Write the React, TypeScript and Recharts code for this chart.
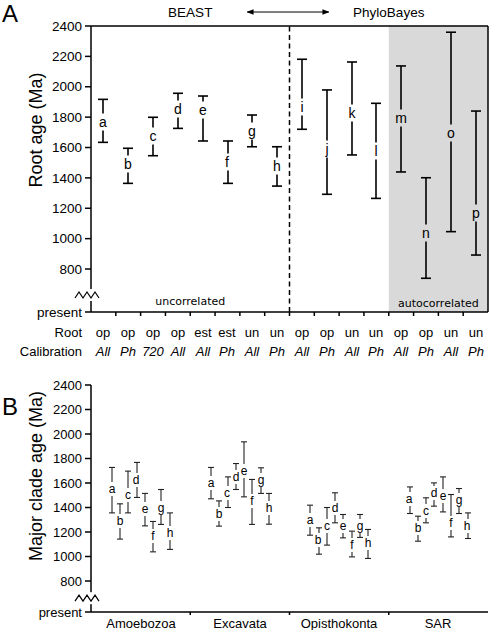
import React from "react";
import { ComposedChart, Bar, XAxis, YAxis, ReferenceArea, ReferenceLine, ReferenceDot, Label } from "recharts";

// panel A: root age estimates (Ma)
const rootCodes = ["a", "b", "c", "d", "e", "f", "g", "h", "i", "j", "k", "l", "m", "n", "o", "p"];
const rootMethod = ["op", "op", "op", "op", "est", "est", "un", "un", "op", "op", "un", "un", "op", "op", "un", "un"];
const rootCalib = ["All", "Ph", "720", "All", "All", "Ph", "All", "Ph", "All", "Ph", "All", "Ph", "All", "Ph", "All", "Ph"];
const rootLow = [1634, 1364, 1546, 1726, 1643, 1364, 1605, 1346, 1720, 1292, 1551, 1265, 1439, 739, 1046, 892];
const rootHigh = [1917, 1595, 1799, 1957, 1939, 1643, 1814, 1605, 2181, 1979, 2163, 1891, 2137, 1401, 2359, 1840];
const rootLabelAt = [1770, 1491, 1676, 1853, 1847, 1504, 1709, 1478, 1867, 1590, 1827, 1577, 1794, 1037, 1695, 1169];

// panel B: major clade ages (Ma)
const clades = ["Amoebozoa", "Excavata", "Opisthokonta", "SAR"];
const cladeCodes = ["a", "b", "c", "d", "e", "f", "g", "h"];
const amoebozoaLow = [1356, 1142, 1356, 1482, 1250, 1038, 1262, 1058];
const amoebozoaHigh = [1727, 1430, 1697, 1768, 1515, 1286, 1547, 1356];
const amoebozoaLabel = [1547, 1291, 1506, 1623, 1384, 1166, 1392, 1193];
const excavataLow = [1471, 1248, 1400, 1547, 1487, 1262, 1515, 1264];
const excavataHigh = [1727, 1454, 1650, 1759, 1936, 1629, 1724, 1515];
const excavataLabel = [1601, 1351, 1515, 1645, 1697, 1454, 1623, 1400];
const opisthokontaLow = [1174, 1019, 1093, 1275, 1152, 997, 1156, 984];
const opisthokontaHigh = [1419, 1234, 1400, 1520, 1343, 1207, 1343, 1221];
const opisthokontaLabel = [1302, 1134, 1248, 1397, 1248, 1093, 1250, 1107];
const sarLow = [1351, 1125, 1275, 1411, 1364, 1160, 1351, 1147];
const sarHigh = [1568, 1329, 1479, 1601, 1650, 1506, 1555, 1356];
const sarLabel = [1468, 1229, 1370, 1515, 1495, 1270, 1460, 1250];

const yTicks = [800, 1000, 1200, 1400, 1600, 1800, 2000, 2200, 2400];
const PRESENT_A = 517;
const BREAK_A = 629;
const PRESENT_B = 547;
const BREAK_B = 660;

const rootRows = rootCodes.map((code, i) => ({
  code,
  method: rootMethod[i],
  calib: rootCalib[i],
  range: [rootLow[i], rootHigh[i]],
  lab: rootLabelAt[i],
}));

const cladeSets = [
  [amoebozoaLow, amoebozoaHigh, amoebozoaLabel],
  [excavataLow, excavataHigh, excavataLabel],
  [opisthokontaLow, opisthokontaHigh, opisthokontaLabel],
  [sarLow, sarHigh, sarLabel],
];

// 12 slots per clade: 2 empty, 8 estimates, 2 empty
const cladeRows: any[] = [];
cladeSets.forEach(([lo, hi, lab], g) => {
  for (let pos = 0; pos < 12; pos++) {
    const k = pos - 2;
    const has = k >= 0 && k < 8;
    cladeRows.push({
      slot: `${g}-${pos}`,
      group: g,
      pos,
      code: has ? cladeCodes[k] : "",
      range: has ? [lo[k], hi[k]] : null,
      lab: has ? lab[k] : null,
    });
  }
});

const FONT = "'Liberation Sans', Arial, sans-serif";

// whisker with a gap left open where the letter sits
const errorShape = (sw: number, cap: number, gap: number, color: string) => (p: any) => {
  const { x, y, width, height, payload } = p;
  if (!payload || !payload.range) return <g />;
  const [lo, hi] = payload.range;
  const cx = Math.round(x + width / 2);
  const top = Math.min(y, y + height);
  const bot = Math.max(y, y + height);
  const ly = Math.round(top + ((hi - payload.lab) / (hi - lo)) * (bot - top));
  const s = { stroke: color, strokeWidth: sw };
  return (
    <g>
      <line x1={cx} x2={cx} y1={top} y2={Math.max(top, ly - gap / 2)} {...s} />
      <line x1={cx} x2={cx} y1={Math.min(bot, ly + gap / 2)} y2={bot} {...s} />
      <line x1={cx - cap / 2} x2={cx + cap / 2} y1={top} y2={top} {...s} />
      <line x1={cx - cap / 2} x2={cx + cap / 2} y1={bot} y2={bot} {...s} />
    </g>
  );
};

const letterShape = (code: string, fontSize: number) => (p: any) => (
  <text x={Math.round(p.cx)} y={Math.round(p.cy)} dy="0.35em" textAnchor="middle" fontSize={fontSize} fill="#000" fontFamily={FONT}>
    {code}
  </text>
);

const yTick = (present: number, brk: number, fontSize: number) => (p: any) => {
  const { x, y, payload } = p;
  const ax = x + 9;
  const v = payload.value;
  if (v === brk) {
    const pts = [-16, -12, -8, -4, 0, 4, 8].map((d, i) => `${ax + d},${y + (i % 2 === 0 ? 3 : -3)}`).join(" ");
    return (
      <g>
        <rect x={ax - 3} y={y - 6} width={6} height={12} fill="#fff" />
        <polyline points={pts} fill="none" stroke="#000" strokeWidth={1.2} />
      </g>
    );
  }
  return (
    <g>
      <line x1={ax - 6} x2={ax} y1={y} y2={y} stroke="#000" strokeWidth={1.5} />
      <text x={x} y={y} dy="0.35em" textAnchor="end" fontSize={fontSize} fill="#000" fontFamily={FONT}>
        {v === present ? "present" : v}
      </text>
    </g>
  );
};

const yTitle = (text: string, dx: number, dy: number) => (p: any) => {
  const vb = p.viewBox || {};
  const cx = (vb.x ?? 0) + dx;
  const cy = (vb.y ?? 0) + dy;
  return (
    <text x={cx} y={cy} transform={`rotate(-90 ${cx} ${cy})`} textAnchor="middle" dominantBaseline="central" fontSize={18} fill="#000" fontFamily={FONT}>
      {text}
    </text>
  );
};

const RootTick = (p: any) => {
  const { x, y, payload } = p;
  const half = payload.offset > 0 ? payload.offset : 397 / 16 / 2;
  const row = rootRows.find((r) => r.code === payload.value);
  if (!row) return <g />;
  const axisY = y - 4;
  const first = row.code === rootCodes[0];
  const t = { fontSize: 13, fill: "#000", fontFamily: FONT };
  const tx = Math.round(x);
  return (
    <g>
      {!first && <line x1={x - half} x2={x - half} y1={axisY} y2={axisY + 4} stroke="#000" strokeWidth={1.5} />}
      <text x={tx} y={axisY + 25} textAnchor="middle" {...t}>{row.method}</text>
      <text x={tx} y={axisY + 44} textAnchor="middle" fontStyle="italic" {...t}>{row.calib}</text>
      {first && (
        <>
          <text x={Math.round(x - half - 9)} y={axisY + 25} textAnchor="end" {...t}>Root</text>
          <text x={Math.round(x - half - 9)} y={axisY + 44} textAnchor="end" {...t}>Calibration</text>
        </>
      )}
    </g>
  );
};

const CladeTick = (p: any) => {
  const { x, y, payload } = p;
  const half = payload.offset > 0 ? payload.offset : 397 / 48 / 2;
  const row = cladeRows.find((r) => r.slot === payload.value);
  if (!row) return <g />;
  const axisY = y - 3;
  return (
    <g>
      {row.pos === 0 && row.group > 0 && (
        <line x1={x - half} x2={x - half} y1={axisY} y2={axisY + 3} stroke="#000" strokeWidth={1.5} />
      )}
      {row.pos === 5 && (
        <text x={Math.round(x + half)} y={axisY + 16} textAnchor="middle" fontSize={13} fill="#000" fontFamily={FONT}>
          {clades[row.group]}
        </text>
      )}
    </g>
  );
};

const arrowShape = (p: any) => (
  <line x1={p.x1 - 5} y1={p.y1} x2={p.x2 + 2} y2={p.y2} stroke="#000" strokeWidth={1} markerStart="url(#arrowHead)" markerEnd="url(#arrowHead)" />
);

const axisStyle = { stroke: "#000", strokeWidth: 1.5 };
const smallLabel = { fill: "#000", fontSize: 11, fontFamily: "'DejaVu Sans', sans-serif" };
const headLabel = { fill: "#000", fontSize: 13.5, fontFamily: FONT };

export default function App() {
  return (
    <div style={{ position: "absolute", left: 0, top: 0, width: 490, height: 630, background: "#fff", fontFamily: FONT }}>
      <svg width={490} height={630} style={{ position: "absolute", left: 0, top: 0, pointerEvents: "none", zIndex: 5 }}>
        <defs>
          <marker id="arrowHead" viewBox="0 0 10 10" refX="9" refY="5" markerWidth="7" markerHeight="7" orient="auto-start-reverse" markerUnits="userSpaceOnUse">
            <path d="M0,1 L10,5 L0,9 z" fill="#000" />
          </marker>
        </defs>
        <text x={2} y={22} fontSize={24} fill="#000" fontFamily={FONT}>A</text>
        <text x={2} y={415} fontSize={24} fill="#000" fontFamily={FONT}>B</text>
      </svg>

      <ComposedChart width={490} height={372} data={rootRows} margin={{ top: 26, right: 2, bottom: 0, left: 0 }}>
        <ReferenceArea x1="m" x2="p" fill="#d9d9d9" fillOpacity={1} stroke="none">
          <Label value="autocorrelated" position="insideBottom" offset={5} {...smallLabel} />
        </ReferenceArea>
        <ReferenceArea x1="a" x2="h" fillOpacity={0} stroke="none">
          <Label value="uncorrelated" position="insideBottom" offset={7} {...smallLabel} />
          <Label value="BEAST" position="top" offset={9} {...headLabel} />
        </ReferenceArea>
        <ReferenceArea x1="i" x2="p" fillOpacity={0} stroke="none">
          <Label value="PhyloBayes" position="top" offset={9} {...headLabel} />
        </ReferenceArea>
        <XAxis dataKey="code" type="category" interval={0} height={60} tickLine={false} tickSize={4} tickMargin={0} axisLine={axisStyle} tick={RootTick} />
        <YAxis
          type="number"
          domain={[PRESENT_A, 2400]}
          ticks={[PRESENT_A, BREAK_A, ...yTicks]}
          interval={0}
          width={91}
          tickLine={false}
          tickSize={6}
          tickMargin={3}
          axisLine={axisStyle}
          tick={yTick(PRESENT_A, BREAK_A, 13.5)}
        >
          <Label content={yTitle("Root age (Ma)", 36, 104)} />
        </YAxis>
        <ReferenceLine y={2400} stroke="#000" strokeWidth={1.5} ifOverflow="visible" />
        <ReferenceLine x="p" position="end" stroke="#000" strokeWidth={1.5} ifOverflow="visible" />
        <ReferenceLine x="i" position="start" stroke="#000" strokeWidth={1.5} strokeDasharray="5 3.5" />
        <ReferenceLine
          segment={[{ x: "g", y: 2492 }, { x: "j", y: 2492 }]}
          ifOverflow="visible"
          shape={arrowShape}
        />
        <Bar dataKey="range" isAnimationActive={false} shape={errorShape(1.6, 10, 17, "#000")} />
        {rootRows.map((r) => (
          <ReferenceDot key={r.code} x={r.code} y={r.lab} r={0} shape={letterShape(r.code, 14)} />
        ))}
      </ComposedChart>

      <ComposedChart width={490} height={258} data={cladeRows} margin={{ top: 13, right: 2, bottom: 0, left: 0 }}>
        <XAxis dataKey="slot" type="category" interval={0} height={18} tickLine={false} tickSize={3} tickMargin={0} axisLine={axisStyle} tick={CladeTick} />
        <YAxis
          type="number"
          domain={[PRESENT_B, 2400]}
          ticks={[PRESENT_B, BREAK_B, ...yTicks]}
          interval={0}
          width={91}
          tickLine={false}
          tickSize={6}
          tickMargin={3}
          axisLine={axisStyle}
          tick={yTick(PRESENT_B, BREAK_B, 13)}
        >
          <Label content={yTitle("Major clade age (Ma)", 36, 91)} />
        </YAxis>
        <Bar dataKey="range" isAnimationActive={false} shape={errorShape(1.1, 6, 14, "#222")} />
        {cladeRows
          .filter((r) => r.range)
          .map((r) => (
            <ReferenceDot key={r.slot} x={r.slot} y={r.lab} r={0} shape={letterShape(r.code, 12)} />
          ))}
      </ComposedChart>
    </div>
  );
}
